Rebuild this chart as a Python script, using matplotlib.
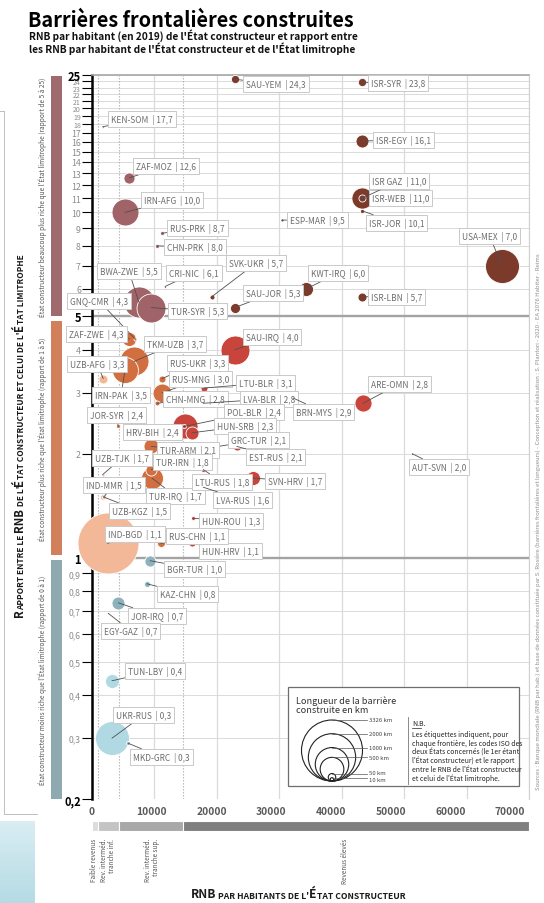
import numpy as np
import matplotlib
matplotlib.use("Agg")
import matplotlib.pyplot as plt
from matplotlib.patches import Circle, Rectangle
from matplotlib.ticker import FixedLocator, NullLocator
from matplotlib.transforms import ScaledTranslation

plt.rcParams['font.family'] = ['Noto Sans CJK SC', 'DejaVu Sans']

# ---------------- data ----------------
borders = ["SAU-YEM", "ISR-SYR", "KEN-SOM", "ISR-EGY", "ZAF-MOZ", "IRN-AFG", "ISR-WEB", "ISR GAZ",
           "ISR-JOR", "ESP-MAR", "RUS-PRK", "CHN-PRK", "USA-MEX", "CRI-NIC", "SVK-UKR", "KWT-IRQ",
           "ISR-LBN", "BWA-ZWE", "TUR-SYR", "SAU-JOR", "GNQ-CMR", "ZAF-ZWE", "TKM-UZB", "IRN-PAK",
           "UZB-AFG", "SAU-IRQ", "RUS-UKR", "RUS-MNG", "CHN-MNG", "LTU-BLR", "LVA-BLR", "BRN-MYS",
           "POL-BLR", "HRV-BIH", "HUN-SRB", "JOR-SYR", "ARE-OMN", "GRC-TUR", "EST-RUS", "TUR-ARM",
           "TUR-IRN", "TUR-IRQ", "UZB-TJK", "IND-MMR", "UZB-KGZ", "SVN-HRV", "LTU-RUS", "LVA-RUS",
           "HUN-ROU", "HUN-HRV", "RUS-CHN", "IND-BGD", "AUT-SVN", "BGR-TUR", "KAZ-CHN", "JOR-IRQ",
           "EGY-GAZ", "TUN-LBY", "UKR-RUS", "MKD-GRC"]
builder_gni = [22850, 43300, 1700, 43300, 6000, 5300, 43300, 43300,
               43300, 30400, 11200, 10400, 65700, 11700, 19200, 34300,
               43300, 7500, 9500, 22850, 6900, 6000, 6700, 5300,
               1800, 22850, 11200, 11200, 10400, 17950, 17800, 32200,
               14800, 14900, 16000, 4200, 43400, 20200, 23200, 9500,
               9500, 9600, 1700, 1900, 1800, 25800, 17800, 17800,
               16200, 16000, 11000, 2500, 51300, 9300, 8800, 4200,
               2600, 3200, 3200, 5800]
gni_ratio = [24.3, 23.8, 17.7, 16.1, 12.6, 10.0, 11.0, 11.0,
             10.1, 9.5, 8.7, 8.0, 7.0, 6.1, 5.7, 6.0,
             5.7, 5.5, 5.3, 5.3, 4.3, 4.3, 3.7, 3.5,
             3.3, 4.0, 3.3, 3.0, 2.8, 3.1, 2.8, 2.9,
             2.4, 2.4, 2.3, 2.4, 2.8, 2.1, 2.1, 2.1,
             1.8, 1.7, 1.74, 1.5, 1.5, 1.7, 1.8, 1.6,
             1.3, 1.1, 1.1, 1.1, 2.0, 0.98, 0.84, 0.74,
             0.69, 0.44, 0.30, 0.29]
barrier_km = [60, 60, 5, 150, 110, 650, 400, 45,
              15, 8, 14, 14, 1030, 4, 22, 175,
              72, 860, 750, 90, 8, 175, 750, 600,
              72, 750, 44, 320, 22, 44, 8, 4,
              14, 560, 150, 14, 260, 10, 72, 200,
              110, 430, 8, 14, 32, 175, 14, 14,
              14, 44, 57, 3326, 4, 110, 32, 150,
              4, 175, 1030, 14]

y_ticks = [0.2, 0.3, 0.4, 0.5, 0.6, 0.7, 0.8, 0.9, 1, 2, 3, 4, 5, 6, 7, 8, 9, 10, 11, 12, 13, 14,
           15, 16, 17, 18, 19, 20, 21, 22, 23, 24, 25]
bold_ticks = [0.2, 1, 5, 25]
x_ticks = [0, 10000, 20000, 30000, 40000, 50000, 60000, 70000]
wb_thresholds = [1035, 4045, 12535]
income_edges = [0, 1035, 4300, 14600, 70000]
income_names = ["Faible revenus", "Rev. interméd.\ntranche inf.", "Rev. interméd.\ntranche sup.", "Revenus élevés"]
legend_km = [3326, 2000, 1000, 500, 50, 10]

# ---------------- layout / style ----------------
W, H = 544, 904
AX_L, AX_R, AX_T, AX_B = 92, 529, 76, 800
MAX_D = 61.0  # pixel diameter of the largest barrier (3326 km)

def diam_px(km):
    return MAX_D * np.sqrt(np.asarray(km, float) / 3326.0)

palette = {('top', 0): '#c58f86', ('top', 1): '#9f6368', ('top', 2): '#7c3a2b',
           ('mid', 0): '#f2b898', ('mid', 1): '#d26f40', ('mid', 2): '#c9443a',
           ('low', 0): '#b0d9e3', ('low', 1): '#8eb2bc', ('low', 2): '#8eb2bc'}

LABEL_POS = {
    "SAU-YEM": (243, 85), "ISR-SYR": (368, 84), "KEN-SOM": (108, 120), "ISR-EGY": (373, 141),
    "ZAF-MOZ": (133, 167), "IRN-AFG": (141, 201), "ISR GAZ": (369, 182), "ISR-WEB": (369, 199),
    "ISR-JOR": (366, 224), "ESP-MAR": (287, 221), "RUS-PRK": (167, 229), "CHN-PRK": (164, 248),
    "USA-MEX": (459, 237), "CRI-NIC": (166, 274), "SVK-UKR": (226, 264), "KWT-IRQ": (308, 274),
    "ISR-LBN": (368, 298), "BWA-ZWE": (97, 272), "TUR-SYR": (168, 312), "SAU-JOR": (243, 294),
    "GNQ-CMR": (67, 302), "ZAF-ZWE": (66, 335), "TKM-UZB": (144, 345), "IRN-PAK": (92, 396),
    "UZB-AFG": (67, 365), "SAU-IRQ": (243, 338), "RUS-UKR": (167, 364), "RUS-MNG": (169, 380),
    "CHN-MNG": (163, 400), "LTU-BLR": (236, 384), "LVA-BLR": (240, 400), "BRN-MYS": (293, 413),
    "POL-BLR": (224, 413), "HRV-BIH": (123, 433), "HUN-SRB": (214, 427), "JOR-SYR": (87, 416),
    "ARE-OMN": (368, 385), "GRC-TUR": (228, 441), "EST-RUS": (246, 458), "TUR-ARM": (157, 451),
    "TUR-IRN": (153, 463), "TUR-IRQ": (146, 497), "UZB-TJK": (92, 459), "IND-MMR": (83, 486),
    "UZB-KGZ": (109, 512), "SVN-HRV": (265, 482), "LTU-RUS": (192, 483), "LVA-RUS": (213, 501),
    "HUN-ROU": (199, 522), "HUN-HRV": (199, 552), "RUS-CHN": (166, 537), "IND-BGD": (105, 535),
    "AUT-SVN": (409, 468), "BGR-TUR": (164, 570), "KAZ-CHN": (157, 595), "JOR-IRQ": (128, 617),
    "EGY-GAZ": (101, 632), "TUN-LBY": (125, 672), "UKR-RUS": (113, 716), "MKD-GRC": (130, 758),
}

fig = plt.figure(figsize=(W / 100, H / 100), dpi=100)
fig.patch.set_facecolor('white')

ax = fig.add_axes([AX_L / W, 1 - AX_B / H, (AX_R - AX_L) / W, (AX_B - AX_T) / H])
ax.set_yscale('log')
ax.set_xlim(0, 70000)
ax.set_ylim(0.2, 25)
ax.patch.set_alpha(0)

# overlay in image pixel coordinates
ov = fig.add_axes([0, 0, 1, 1], zorder=10)
ov.set_xlim(0, W)
ov.set_ylim(H, 0)
ov.axis('off')
ov.patch.set_alpha(0)

# grid
for v in y_ticks:
    if v in (1, 5):
        ax.axhline(v, color='#a3a3a3', lw=1.7, zorder=0.6)
    else:
        ax.axhline(v, color='#dadada', lw=0.7, zorder=0.5)
for v in x_ticks[1:]:
    ax.axvline(v, color='#dadada', lw=0.9, zorder=0.5)
for v in income_edges[1:-1]:
    ax.axvline(v, color='#b0b0b0', lw=0.8, ls=(0, (1.2, 1.5)), zorder=0.55)

# axes styling
ax.spines['left'].set_color('black')
ax.spines['left'].set_linewidth(1.8)
ax.spines['top'].set_color('#a8a8a8')
ax.spines['top'].set_linewidth(1.2)
ax.spines['right'].set_color('#d0d0d0')
ax.spines['right'].set_linewidth(0.8)
ax.spines['bottom'].set_visible(False)

ax.yaxis.set_major_locator(FixedLocator(y_ticks))
ax.yaxis.set_minor_locator(NullLocator())
ax.set_yticklabels([('%g' % v).replace('.', ',') for v in y_ticks])
for tick, v in zip(ax.yaxis.get_major_ticks(), y_ticks):
    if v in bold_ticks:
        tick.label1.set_fontweight('bold')
        tick.label1.set_fontsize(8.0)
        tick.label1.set_color('black')
        tick.tick1line.set_color('black')
        tick.tick1line.set_markeredgewidth(1.0)
    else:
        tick.label1.set_fontsize(6.3 if v < 18 else 5.1)
        tick.label1.set_color('#8c8c8c')
        tick.tick1line.set_color('#bdbdbd')
        tick.tick1line.set_markeredgewidth(0.6)
ax.tick_params(axis='y', length=7, pad=1)

ax.xaxis.set_major_locator(FixedLocator(x_ticks))
ax.set_xticklabels([str(v) for v in x_ticks])
ax.tick_params(axis='x', length=0, pad=5, labelsize=7.4, labelcolor='#5a5a5a')
for k, lab in enumerate(ax.get_xticklabels()):
    lab.set_fontweight('bold')
    lab.set_transform(lab.get_transform() + ScaledTranslation(-0.027 * k, 0, fig.dpi_scale_trans))

# bubbles
def ratio_cat(r):
    return 'top' if r >= 5 else ('mid' if r >= 1 else 'low')

def income_idx(g):
    return min(2, max(0, int(np.searchsorted(wb_thresholds, g)) - 1))

colors = [palette[(ratio_cat(r), income_idx(g))] for g, r in zip(builder_gni, gni_ratio)]
d = diam_px(barrier_km)
sizes = (d * 0.72) ** 2
order = np.argsort(-np.asarray(barrier_km), kind='stable')
for i in order:
    ax.scatter(builder_gni[i], gni_ratio[i], s=sizes[i], color=colors[i],
               edgecolor='white', linewidth=0.6, zorder=3, clip_on=False)

# labels
for i, name in enumerate(borders):
    lx, ly = LABEL_POS[name]
    txt = "%s  | %s" % (name, ('%.1f' % gni_ratio[i]).replace('.', ','))
    ax.annotate(txt, xy=(builder_gni[i], gni_ratio[i]), xytext=(lx + 3, ly),
                textcoords=ov.transData, ha='left', va='center', fontsize=6.0,
                color='#6e6e6e', zorder=5, annotation_clip=False,
                bbox=dict(boxstyle='square,pad=0.35', fc='white', ec='#c9c9c9', lw=0.7),
                arrowprops=dict(arrowstyle='-', color='#505050', lw=0.6,
                                shrinkA=0, shrinkB=0))

# ---------------- small caps helper ----------------
def small_caps(x, y, text, big, small, rotation=0, color='black', weight='bold'):
    runs = []
    for ch in text:
        size = big if ch.isupper() else small
        if runs and runs[-1][1] == size:
            runs[-1][0] += ch.upper()
        else:
            runs.append([ch.upper(), size])
    arts = []
    if rotation == 0:
        t = ov.text(x, y, runs[0][0], fontsize=runs[0][1], color=color, weight=weight,
                    ha='left', va='bottom')
        arts.append(t)
        for s, sz in runs[1:]:
            t = ov.annotate(s, xy=(1, 0), xycoords=arts[-1], ha='left', va='bottom',
                            fontsize=sz, color=color, weight=weight)
            arts.append(t)
    else:
        t = ov.text(x, y, runs[0][0], fontsize=runs[0][1], color=color, weight=weight,
                    ha='right', va='bottom', rotation=90)
        arts.append(t)
        for s, sz in runs[1:]:
            t = ov.annotate(s, xy=(1, 1), xycoords=arts[-1], ha='right', va='bottom',
                            fontsize=sz, color=color, weight=weight, rotation=90)
            arts.append(t)
    return arts

def center_caps(arts, cx, cy, rotation=0):
    fig.canvas.draw()
    r = fig.canvas.get_renderer()
    bb0 = arts[0].get_window_extent(r)
    bb1 = arts[-1].get_window_extent(r)
    x0, y0 = arts[0].get_position()
    if rotation == 0:
        width = bb1.x1 - bb0.x0
        arts[0].set_position((cx - width / 2, y0))
    else:
        height = bb1.y1 - bb0.y0
        arts[0].set_position((x0, cy + height / 2))

# ---------------- titles ----------------
ov.text(28, 27, "Barrières frontalières construites", fontsize=14.3, weight='black',
        color='black', va='baseline', ha='left')
ov.text(29, 40, "RNB par habitant (en 2019) de l'État constructeur et rapport entre",
        fontsize=7.3, weight='bold', color='#111111', va='baseline', ha='left')
ov.text(29, 53, "les RNB par habitant de l'État constructeur et de l'État limitrophe",
        fontsize=7.3, weight='bold', color='#111111', va='baseline', ha='left')

# left side bars and texts
bars = [(77, 317, '#9e6a6e',
         "État constructeur beaucoup plus riche que l'État limitrophe (rapport de 5 à 25)"),
        (322, 556, '#d27f5b',
         "État constructeur plus riche que l'État limitrophe (rapport de 1 à 5)"),
        (561, 800, '#8fa9b1',
         "État constructeur moins riche que l'État limitrophe (rapport de 0 à 1)")]
for y0, y1, c, t in bars:
    ov.add_patch(Rectangle((51, y0), 11, y1 - y0, color=c, lw=0))
    ov.text(43, (y0 + y1) / 2, t, rotation=90, ha='center', va='center', fontsize=4.7,
            color='#555555')

ycap = small_caps(26, 600, "Rapport entre le RNB de l'État constructeur et celui de l'État limitrophe",
                  8.2, 6.0, rotation=90, color='#1a1a1a')

# left frame and bottom-left tint
ov.plot([4, 4], [112, 815], color='#bfbfbf', lw=0.7)
ov.plot([0, 4], [112, 112], color='#bfbfbf', lw=0.7)
ov.plot([4, 37], [815, 815], color='#bfbfbf', lw=0.7)
grad = np.linspace(0, 1, 50).reshape(-1, 1)
ov.imshow(grad, extent=(0, 35, 904, 822), cmap=matplotlib.colors.LinearSegmentedColormap.from_list(
    'b', ['#d9edf2', '#b5dbe5']), aspect='auto', zorder=0)
ov.set_xlim(0, W)
ov.set_ylim(H, 0)

# right credits
ov.text(538, 790, "Sources : Banque mondiale (RNB par hab.) et base de données constituée par S. Rosière "
        "(barrières frontalières et longueurs) - Conception et réalisation : S. Plantori - 2020 - "
        "EA 2076 Habiter - Reims", rotation=90, ha='center', va='bottom', fontsize=4.3,
        color='#8e8e8e')

# ---------------- legend ----------------
ov.add_patch(Rectangle((288, 688), 231, 99, fc='white', ec='#6e6e6e', lw=0.9, zorder=1))
ov.text(296, 696, "Longueur de la barrière\nconstruite en km", fontsize=6.6, color='#333333',
        ha='left', va='top', linespacing=1.0, zorder=2)
cx, base = 332, 782
nudge = {50: -1.5, 10: 2.0}
for km in legend_km:
    r = diam_px(km) / 2
    ov.add_patch(Circle((cx, base - r), r, fc='none', ec='#222222', lw=0.8, zorder=2))
    ov.plot([cx, 367], [base - 2 * r, base - 2 * r], color='#555555', lw=0.5, zorder=2)
    ov.text(369, base - 2 * r + nudge.get(km, 0), "%d km" % km, fontsize=4.3, color='#444444',
            ha='left', va='center', zorder=2)
ov.plot([408, 408], [718, 785], color='#777777', lw=0.6, zorder=2)
ov.text(412, 724, "N.B.", fontsize=5.0, color='#222222', ha='left', va='center', zorder=2)
ov.plot([412, 421], [728.5, 728.5], color='#222222', lw=0.5, zorder=2)
ov.text(412, 731, "Les étiquettes indiquent, pour\nchaque frontière, les codes ISO des\n"
        "deux États concernés (le 1er étant\nl'État constructeur) et le rapport\n"
        "entre le RNB de l'État constructeur\net celui de l'État limitrophe.",
        fontsize=4.9, color='#222222', ha='left', va='top', linespacing=1.05, zorder=2)

# ---------------- income band ----------------
bax = fig.add_axes([AX_L / W, 1 - 832 / H, (AX_R - AX_L) / W, 10 / H])
bax.set_xlim(0, 70000)
bax.set_ylim(0, 1)
bax.axis('off')
band_colors = ['#dcdcdc', '#c4c4c4', '#a8a8a8', '#7f7f7f']
band_label_x = [400, 2600, 9600, 40500]
for k in range(4):
    bax.barh(0.5, income_edges[k + 1] - income_edges[k], left=income_edges[k], height=1,
             color=band_colors[k], edgecolor='white', linewidth=0.8)
    bax.text(band_label_x[k], -0.7, income_names[k], rotation=90, ha='center', va='top',
             multialignment='right', fontsize=4.6, color='#555555', linespacing=0.95)

xcap = small_caps(200, 901, "RNB par habitants de l'État constructeur", 8.6, 6.2,
                  color='#1a1a1a')
center_caps(xcap, 298, 901)
center_caps(ycap, 26, 436, rotation=90)

fig.savefig("out.png", dpi=100, facecolor='white')
